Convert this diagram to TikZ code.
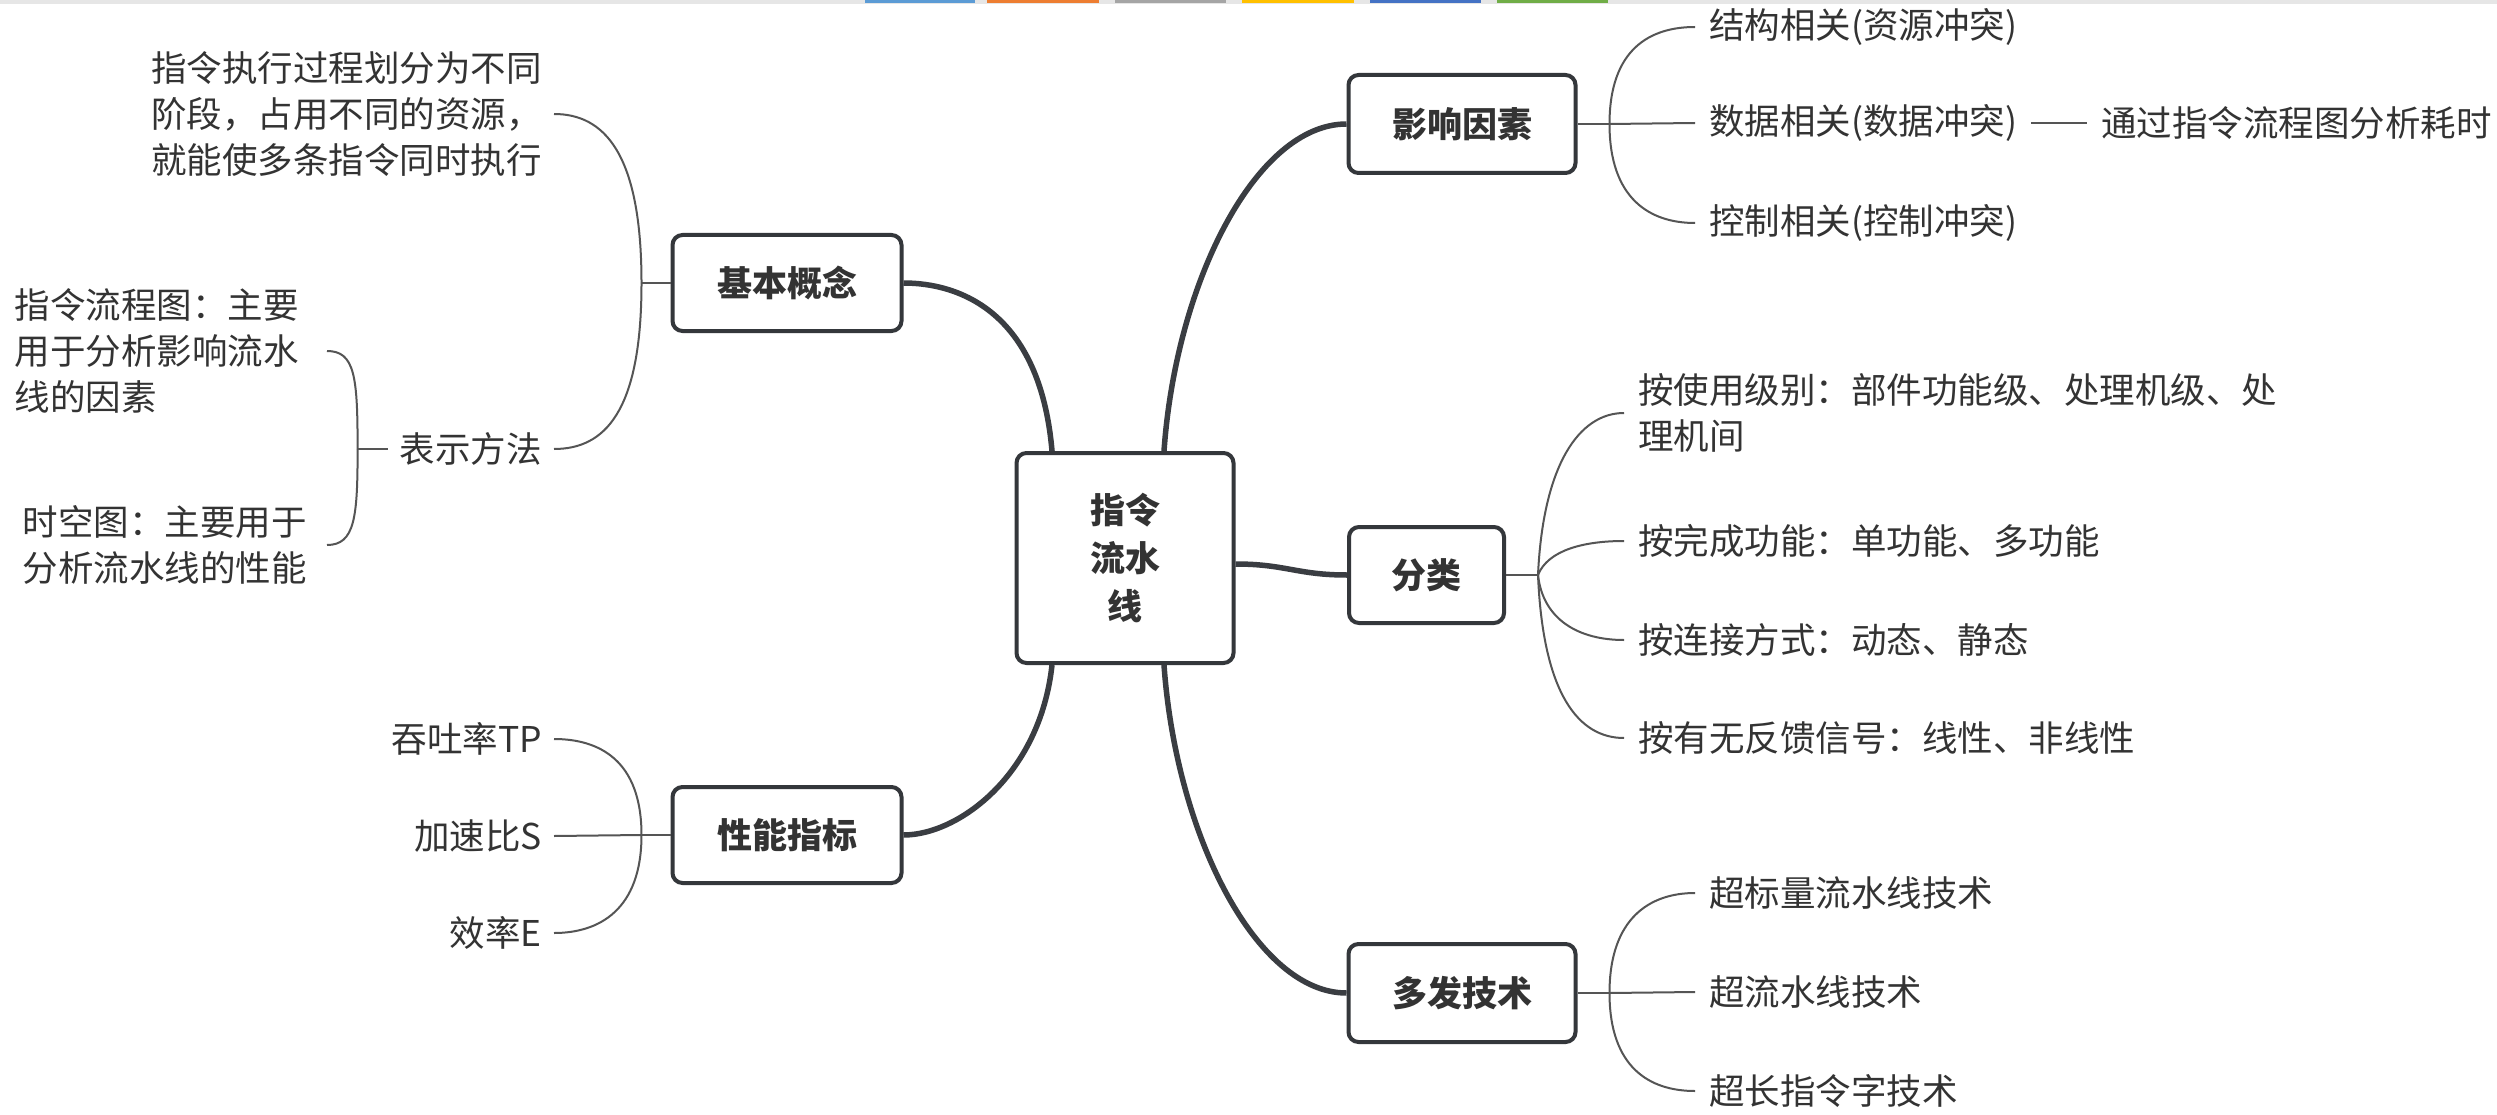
\documentclass[tikz,border=0pt]{standalone}
\usepackage{fontspec}
\setmainfont{Noto Sans CJK SC}
\definecolor{txt}{HTML}{333333}
\definecolor{boxc}{HTML}{34373B}
\definecolor{mainc}{HTML}{3A3D42}
\definecolor{thinc}{HTML}{555555}
\definecolor{stripg}{HTML}{E6E6E6}
\definecolor{s1}{HTML}{5B9BD5}
\definecolor{s2}{HTML}{ED7D31}
\definecolor{s3}{HTML}{A5A5A5}
\definecolor{s4}{HTML}{FFC000}
\definecolor{s5}{HTML}{4472C4}
\definecolor{s6}{HTML}{70AD47}
\begin{document}
\begin{tikzpicture}[x=1pt,y=-1pt,
  topic/.style={draw=boxc, line width=4pt, rounded corners=10pt, fill=white,
    font=\fontsize{35}{48}\selectfont\bfseries, text=txt, align=center, inner sep=0pt},
  leaf/.style={font=\fontsize{35.5}{46}\selectfont, text=txt, inner ysep=0pt, inner xsep=12pt, align=left},
  rleaf/.style={leaf, inner xsep=14pt, anchor=west},
  main/.style={draw=mainc, line width=5.5pt},
  thin/.style={draw=thinc, line width=2pt}]
\useasboundingbox (0,0) rectangle (2497,1115);
\fill[white] (0,0) rectangle (2497,1115);
% top strip
\fill[stripg] (0,0) rectangle (2497,4);
\fill[s1] (865,0) rectangle (975,3);
\fill[s2] (987,0) rectangle (1099,3);
\fill[s3] (1115,0) rectangle (1226,3);
\fill[s4] (1242,0) rectangle (1354,3);
\fill[s5] (1370,0) rectangle (1481,3);
\fill[s6] (1497,0) rectangle (1608,3);

% topic boxes
\node[topic, minimum width=217pt, minimum height=210pt] (root) at (1125,558) {指令\\流水\\线};
\node[topic, minimum width=229pt, minimum height=96pt] (jb) at (787,283) {基本概念};
\node[topic, minimum width=229pt, minimum height=96pt] (xn) at (787,835) {性能指标};
\node[topic, minimum width=227pt, minimum height=98pt] (yx) at (1462,124) {影响因素};
\node[topic, minimum width=155pt, minimum height=96pt] (fl) at (1426.5,575) {分类};
\node[topic, minimum width=227pt, minimum height=98pt] (df) at (1462,993) {多发技术};

% left leaves
\node[leaf, anchor=east] (k1) at (554,114) {指令执行过程划分为不同\\阶段，占用不同的资源，\\就能使多条指令同时执行};
\node[leaf, anchor=east] (k2) at (554,449) {表示方法};
\node[leaf, anchor=east, inner xsep=28pt] (k3) at (327,351) {指令流程图：主要\\用于分析影响流水\\线的因素};
\node[leaf, anchor=east, inner xsep=20pt] (k4) at (327,545) {时空图：主要用于\\分析流水线的性能};
\node[leaf, anchor=east] (p1) at (554,739) {吞吐率TP};
\node[leaf, anchor=east] (p2) at (554,836) {加速比S};
\node[leaf, anchor=east] (p3) at (554,933) {效率E};

% right leaves
\node[rleaf] (y1) at (1695,27) {结构相关(资源冲突)};
\node[rleaf] (y2) at (1695,123) {数据相关(数据冲突)};
\node[rleaf] (y3) at (1695,223) {控制相关(控制冲突)};
\node[rleaf] (y4) at (2087,123) {通过指令流程图分析耗时};
\node[rleaf] (f1) at (1624,413) {按使用级别：部件功能级、处理机级、处\\理机间};
\node[rleaf] (f2) at (1624,541) {按完成功能：单功能、多功能};
\node[rleaf] (f3) at (1624,640) {按连接方式：动态、静态};
\node[rleaf] (f4) at (1624,738) {按有无反馈信号：线性、非线性};
\node[rleaf] (d1) at (1695,893) {超标量流水线技术};
\node[rleaf] (d2) at (1695,992) {超流水线技术};
\node[rleaf] (d3) at (1695,1091) {超长指令字技术};

% main connectors
\draw[main] (jb.east) .. controls +(55,0) and +(-12,-140) .. ([xshift=-73pt]root.north);
\draw[main] ([xshift=39pt]root.north) .. controls +(12,-170) and +(-90,0) .. (yx.west);
\draw[main] ([yshift=-6pt]root.east) .. controls +(50,0) and +(-50,0) .. (fl.west);
\draw[main] ([xshift=39pt]root.south) .. controls +(12,170) and +(-90,0) .. (df.west);
\draw[main] ([xshift=-73pt]root.south) .. controls +(-12,110) and +(55,0) .. (xn.east);

% thin connectors: basic concept
\coordinate (J1) at ([xshift=-29pt]jb.west);
\draw[thin] (jb.west) -- (J1);
\draw[thin] (J1) .. controls +(0,-130) and +(50,0) .. (k1.east);
\draw[thin] (J1) .. controls +(0,130) and +(50,0) .. (k2.east);
\coordinate (J2) at ([xshift=-30pt]k2.west);
\draw[thin] (k2.west) -- (J2);
\draw[thin] (J2) .. controls +(0,-72) and +(28,0) .. (k3.east);
\draw[thin] (J2) .. controls +(0,68) and +(28,0) .. (k4.east);

% performance
\coordinate (J3) at ([xshift=-29pt]xn.west);
\draw[thin] (xn.west) -- (J3);
\draw[thin] (J3) .. controls +(0,-75) and +(45,0) .. (p1.east);
\draw[thin] (J3) -- (p2.east);
\draw[thin] (J3) .. controls +(0,75) and +(45,0) .. (p3.east);

% factors
\coordinate (J4) at ([xshift=32pt]yx.east);
\draw[thin] (yx.east) -- (J4);
\draw[thin] (J4) .. controls +(0,-75) and +(-45,0) .. (y1.west);
\draw[thin] (J4) -- (y2.west);
\draw[thin] (J4) .. controls +(0,75) and +(-45,0) .. (y3.west);
\draw[thin] (y2.east) -- (y4.west);

% classification
\coordinate (J5) at ([xshift=32pt]fl.east);
\draw[thin] (fl.east) -- (J5);
\draw[thin] (J5) .. controls +(5,-110) and +(-45,0) .. (f1.west);
\draw[thin] (J5) .. controls +(10,-25) and +(-40,0) .. (f2.west);
\draw[thin] (J5) .. controls +(5,45) and +(-45,0) .. (f3.west);
\draw[thin] (J5) .. controls +(5,120) and +(-45,0) .. (f4.west);

% multi-issue
\coordinate (J6) at ([xshift=32pt]df.east);
\draw[thin] (df.east) -- (J6);
\draw[thin] (J6) .. controls +(0,-75) and +(-45,0) .. (d1.west);
\draw[thin] (J6) -- (d2.west);
\draw[thin] (J6) .. controls +(0,75) and +(-45,0) .. (d3.west);
\end{tikzpicture}
\end{document}
